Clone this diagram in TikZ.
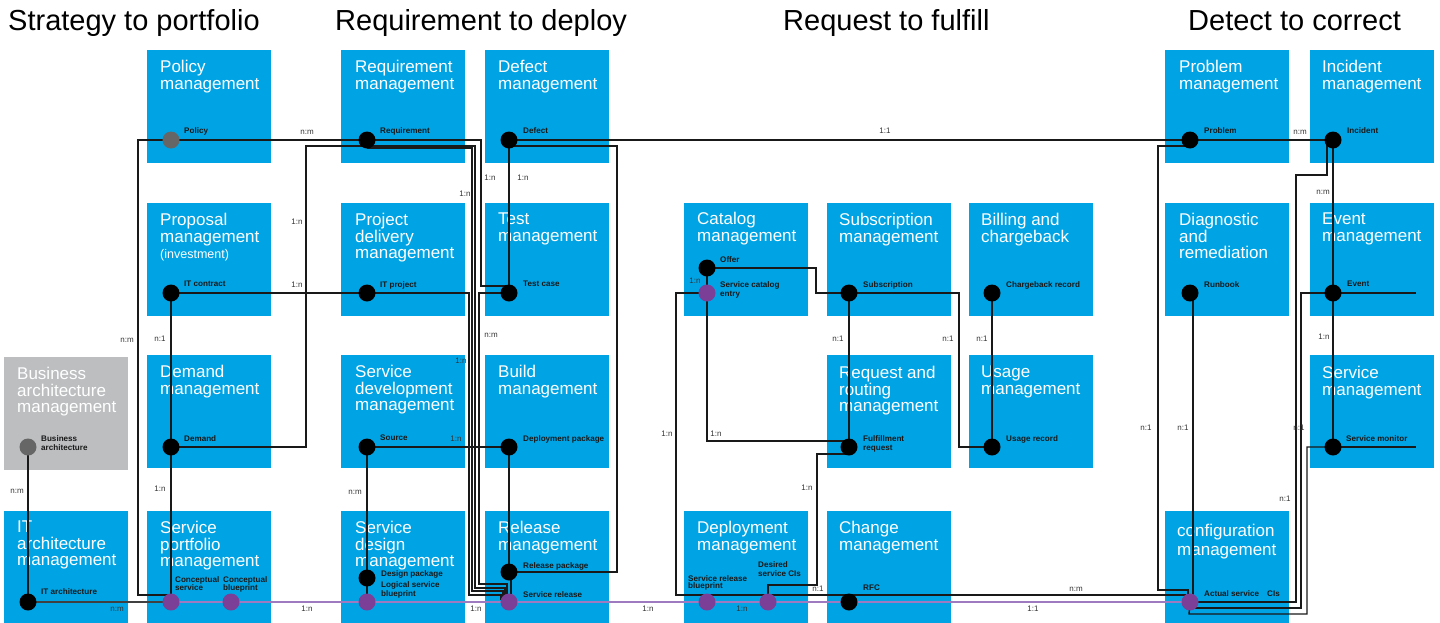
\documentclass[tikz,border=0pt]{standalone}
\usepackage{fontspec}
\setmainfont{Liberation Sans}
\usetikzlibrary{calc}
\definecolor{boxblue}{HTML}{00A4E4}
\definecolor{boxgray}{HTML}{BCBEC0}
\definecolor{dotgray}{HTML}{666666}
\definecolor{dotpurple}{HTML}{7B3F98}
\definecolor{linepurple}{HTML}{9E7BC0}
\pgfdeclarelayer{bg}\pgfdeclarelayer{lines}\pgfsetlayers{bg,lines,main}
\begin{document}
\begin{tikzpicture}[x=1pt,y=-1pt,
  box/.style={anchor=north west, fill=boxblue, minimum width=124pt, minimum height=113pt, inner sep=0pt, draw=none},
  gbox/.style={box, fill=boxgray},
  ttl/.style={anchor=north west, inner sep=0pt, text=white, align=left, font=\fontsize{17}{16.5}\selectfont},
  hdr/.style={anchor=base west, inner sep=0pt, font=\fontsize{29}{30}\selectfont},
  dot/.style={circle, fill=black, minimum size=17pt, inner sep=0pt},
  gdot/.style={dot, fill=dotgray},
  pdot/.style={dot, fill=dotpurple},
  lbl/.style={anchor=north west, inner sep=0pt, align=left, font=\fontsize{8.1}{9}\selectfont\bfseries, text=black!90},
  rat/.style={inner sep=0pt, font=\fontsize{8}{8}\selectfont, text=black!80},
  conn/.style={line width=1.4pt, black!90},
  pconn/.style={line width=2.2pt, linepurple},
]
\useasboundingbox (0,0) rectangle (1440,622);

% headers
\node[hdr] (h1) at (8,30) {Strategy to portfolio};
\node[hdr] (h2) at (335,30) {Requirement to deploy};
\node[hdr] (h3) at (783,30) {Request to fulfill};
\node[hdr] (h4) at (1188,30) {Detect to correct};

\begin{pgfonlayer}{bg}
% boxes
\node[gbox] (bam) at (4,357) {};
\node[box] (itam) at (4,511) {};
\node[box] (pol) at (147,50) {};
\node[box] (prop) at (147,203) {};
\node[box] (dem) at (147,355) {};
\node[box] (spm) at (147,511) {};
\node[box] (req) at (341,50) {};
\node[box] (pdm) at (341,203) {};
\node[box] (sdev) at (341,355) {};
\node[box] (sdes) at (341,511) {};
\node[box] (defm) at (485,50) {};
\node[box] (test) at (485,203) {};
\node[box] (build) at (485,355) {};
\node[box] (rel) at (485,511) {};
\node[box] (cat) at (684,203) {};
\node[box] (depm) at (684,511) {};
\node[box] (subm) at (827,203) {};
\node[box] (rr) at (827,355) {};
\node[box] (chg) at (827,511) {};
\node[box] (bill) at (969,203) {};
\node[box] (usage) at (969,355) {};
\node[box] (prob) at (1165,50) {};
\node[box] (diag) at (1165,203) {};
\node[box] (cfg) at (1165,511) {};
\node[box] (inc) at (1310,50) {};
\node[box] (evt) at (1310,203) {};
\node[box] (smg) at (1310,355) {};
% titles
\node[ttl] (t-bam) at (17,367) {Business\\architecture\\management};
\node[ttl] (t-itam) at (17,521) {IT\\architecture\\management};
\node[ttl] (t-pol) at (160,60) {Policy\\management};
\node[ttl] (t-prop) at (160,213) {Proposal\\management\\{\fontsize{12.5}{16.5}\selectfont (investment)}};
\node[ttl] (t-dem) at (160,365) {Demand\\management};
\node[ttl] (t-spm) at (160,521) {Service\\portfolio\\management};
\node[ttl] (t-req) at (355,60) {Requirement\\management};
\node[ttl] (t-pdm) at (355,213) {Project\\delivery\\management};
\node[ttl] (t-sdev) at (355,365) {Service\\development\\management};
\node[ttl] (t-sdes) at (355,521) {Service\\design\\management};
\node[ttl] (t-def) at (498,60) {Defect\\management};
\node[ttl] (t-test) at (498,213) {Test\\management};
\node[ttl] (t-build) at (498,365) {Build\\management};
\node[ttl] (t-rel) at (498,521) {Release\\management};
\node[ttl] (t-cat) at (697,212) {Catalog\\management};
\node[ttl] (t-dep) at (697,521) {Deployment\\management};
\node[ttl] (t-sub) at (839,213) {Subscription\\management};
\node[ttl] (t-rr) at (839,366) {Request and\\routing\\management};
\node[ttl] (t-chg) at (839,521) {Change\\management};
\node[ttl] (t-bill) at (981,213) {Billing and\\chargeback};
\node[ttl] (t-usage) at (981,366) {Usage\\management};
\node[ttl] (t-prob) at (1179,60) {Problem\\management};
\node[ttl] (t-diag) at (1179,213) {Diagnostic\\and\\remediation};
\node[ttl, font=\fontsize{17}{18.5}\selectfont] (t-cfg) at (1177,524) {configuration\\management};
\node[ttl] (t-inc) at (1322,60) {Incident\\management};
\node[ttl] (t-evt) at (1322,213) {Event\\management};
\node[ttl] (t-smg) at (1322,366) {Service\\management};
\end{pgfonlayer}

% dots
\node[gdot] (d-bus) at (28,447) {};
\node[dot] (d-itarch) at (28,602) {};
\node[gdot] (d-pol) at (171,140) {};
\node[dot] (d-itc) at (171,293) {};
\node[dot] (d-dem) at (171,447) {};
\node[pdot] (d-cserv) at (171,602) {};
\node[pdot] (d-cbp) at (231,602) {};
\node[dot] (d-req) at (367,140) {};
\node[dot] (d-itp) at (367,293) {};
\node[dot] (d-src) at (367,447) {};
\node[dot] (d-dpkg) at (367,578) {};
\node[pdot] (d-lsb) at (367,602) {};
\node[dot] (d-def) at (509,140) {};
\node[dot] (d-tc) at (509,293) {};
\node[dot] (d-dep) at (509,447) {};
\node[dot] (d-relp) at (509,572) {};
\node[pdot] (d-srel) at (509,602) {};
\node[dot] (d-offer) at (707,268) {};
\node[pdot] (d-sce) at (707,293) {};
\node[pdot] (d-srb) at (707,602) {};
\node[pdot] (d-dsci) at (768,602) {};
\node[dot] (d-sub) at (849,293) {};
\node[dot] (d-fr) at (849,447) {};
\node[dot] (d-rfc) at (849,602) {};
\node[dot] (d-cb) at (992,293) {};
\node[dot] (d-ur) at (992,447) {};
\node[dot] (d-prob) at (1190,140) {};
\node[dot] (d-rb) at (1190,293) {};
\node[pdot] (d-as) at (1190,602) {};
\node[dot] (d-inc) at (1333,140) {};
\node[dot] (d-evt) at (1333,293) {};
\node[dot] (d-smon) at (1333,447) {};
\coordinate (evt-end) at (1416,293);
\coordinate (smon-end) at (1416,447);

\begin{pgfonlayer}{lines}
\draw[pconn] (d-cserv.center) -- (d-as.center);
\draw[conn] (d-bus.center) -- (d-itarch.center);
\draw[conn, black!75] (d-itarch.center) -- (d-cserv.center);
\draw[conn] (d-pol.center) -- (d-req.center);
\draw[conn] (d-pol.center) -- (138,140) -- (138,595) -- ($(d-cserv.center)+(0,-7)$);
\draw[conn] (d-itc.center) -- (d-itp.center);
\draw[conn] (d-itc.center) -- (d-dem.center);
\draw[conn] (d-dem.center) -- (d-cserv.center);
\draw[conn] (d-dem.center) -- (306,447) -- (306,146) -- ($(d-req.center)+(0,6)$);
\draw[conn] ($(d-req.center)+(0,6)$) -- (475,146) -- (475,588) -- (505,588) -- ($(d-srel.center)+(-4,-4)$);
\draw[conn] ($(d-req.center)+(0,8)$) -- (472,148) -- (472,591) -- (503,591) -- ($(d-srel.center)+(-6,-3)$);
\draw[conn] (d-req.center) -- (481,140) -- (481,286) -- ($(d-tc.center)+(0,-7)$);
\draw[conn] (d-def.center) -- (d-tc.center);
\draw[conn] ($(d-def.center)+(0,6)$) -- (617,146) -- (617,572) -- (d-relp.center);
\draw[conn] (d-def.center) -- (d-prob.center);
\draw[conn] (d-itp.center) -- (469,293) -- (469,595) -- (501,595) -- ($(d-srel.center)+(-8,-2)$);
\draw[conn] (d-tc.center) -- (479,293) -- (479,584) -- (507,584) -- ($(d-srel.center)+(-2,-4)$);
\draw[conn] (d-src.center) -- (d-dep.center);
\draw[conn] (d-src.center) -- (d-dpkg.center);
\draw[conn] (d-dpkg.center) -- (d-lsb.center);
\draw[conn] (d-dep.center) -- (d-relp.center);
\draw[conn] ($(d-relp.center)+(2,0)$) -- ($(d-srel.center)+(2,0)$);
\draw[conn] (d-offer.center) -- (d-sce.center);
\draw[conn] (d-offer.center) -- (816,268) -- (816,293) -- (d-sub.center);
\draw[conn] (d-sub.center) -- (959,293) -- (959,447) -- (d-ur.center);
\draw[conn] (d-sub.center) -- (d-fr.center);
\draw[conn] (d-cb.center) -- (d-ur.center);
\draw[conn] (d-sce.center) -- (707,441) -- ($(d-fr.center)+(0,-6)$);
\draw[conn] (d-sce.center) -- (676,293) -- (676,595) -- ($(d-rfc.center)+(0,-7)$);
\draw[conn] ($(d-rfc.center)+(0,-7)$) -- ($(d-as.center)+(-4,-7)$);
\draw[conn] ($(d-fr.center)+(0,7)$) -- (817,454) -- (817,585) -- (768,585) -- (d-dsci.center);
\draw[conn] ($(d-prob.center)+(0,6)$) -- (1158,146) -- (1158,590) -- (1188,590) -- ($(d-as.center)+(-2,-4)$);
\draw[conn] (d-prob.center) -- (d-inc.center);
\draw[conn] ($(d-rb.center)+(3,0)$) -- ($(d-as.center)+(3,0)$);
\draw[conn] (d-inc.center) -- (d-evt.center);
\draw[conn] (d-evt.center) -- (d-smon.center);
\draw[conn] ($(d-inc.center)+(-6,0)$) -- (1327,175) -- (1296,175) -- (1296,602) -- (d-as.center);
\draw[conn] (d-evt.center) -- (1301,293) -- (1301,608) -- (1195,608) -- ($(d-as.center)+(5,2)$);
\draw[conn] (d-smon.center) -- (1307,447) -- (1307,614) -- (1189,614) -- (d-as.center);
\draw[conn] (d-evt.center) -- (evt-end);
\draw[conn] (d-smon.center) -- (smon-end);
\end{pgfonlayer}

% dot labels
\node[lbl] (l-bus) at (41,435) {Business\\architecture};
\node[lbl] (l-itarch) at (41,588) {IT architecture};
\node[lbl] (l-pol) at (184,127) {Policy};
\node[lbl] (l-itc) at (184,281) {IT contract};
\node[lbl] (l-dem) at (184,435) {Demand};
\node[lbl, font=\fontsize{8.1}{8.4}\selectfont\bfseries] (l-cserv) at (175,576) {Conceptual\\service};
\node[lbl, font=\fontsize{8.1}{8.4}\selectfont\bfseries] (l-cbp) at (223,576) {Conceptual\\blueprint};
\node[lbl] (l-req) at (380,127) {Requirement};
\node[lbl] (l-itp) at (380,281) {IT project};
\node[lbl] (l-src) at (380,435) {Source};
\node[lbl] (l-dpkg) at (381,570) {Design package};
\node[lbl, font=\fontsize{8.1}{9.8}\selectfont\bfseries] (l-lsb) at (381,581) {Logical service\\blueprint};
\node[lbl] (l-def) at (523,127) {Defect};
\node[lbl] (l-tc) at (523,281) {Test case};
\node[lbl] (l-dep) at (523,435) {Deployment package};
\node[lbl] (l-relp) at (523,562) {Release package};
\node[lbl] (l-srel) at (523,591) {Service release};
\node[lbl] (l-offer) at (720,256) {Offer};
\node[lbl, font=\fontsize{8.1}{9.8}\selectfont\bfseries] (l-sce) at (720,281) {Service catalog\\entry};
\node[lbl, font=\fontsize{8.1}{7.6}\selectfont\bfseries] (l-srb) at (688,575) {Service release\\blueprint};
\node[lbl] (l-dsci) at (758,561) {Desired\\service CIs};
\node[lbl] (l-sub) at (863,281) {Subscription};
\node[lbl] (l-fr) at (863,435) {Fulfillment\\request};
\node[lbl] (l-rfc) at (863,585) {RFC};
\node[lbl] (l-cb) at (1006,281) {Chargeback record};
\node[lbl] (l-ur) at (1006,435) {Usage record};
\node[lbl] (l-prob) at (1204,127) {Problem};
\node[lbl] (l-rb) at (1204,281) {Runbook};
\node[lbl] (l-as) at (1204,590) {Actual service\quad CIs};
\node[lbl] (l-inc) at (1347,127) {Incident};
\node[lbl] (l-evt) at (1347,281) {Event};
\node[lbl] (l-smon) at (1346,435) {Service monitor};

% ratio labels
\node[rat] (r1) at (17,491) {n:m};
\node[rat] (r2) at (117,609) {n:m};
\node[rat] (r3) at (127,340) {n:m};
\node[rat] (r4) at (160,339) {n:1};
\node[rat] (r5) at (160,489) {1:n};
\node[rat] (r6) at (297,222) {1:n};
\node[rat] (r7) at (297,285) {1:n};
\node[rat] (r8) at (307,132) {n:m};
\node[rat] (r9) at (307,609) {1:n};
\node[rat] (r10) at (355,492) {n:m};
\node[rat] (r11) at (456,439) {1:n};
\node[rat] (r12) at (461,361) {1:n};
\node[rat] (r13) at (465,194) {1:n};
\node[rat] (r14) at (490,178) {1:n};
\node[rat] (r15) at (523,178) {1:n};
\node[rat] (r16) at (491,335) {n:m};
\node[rat] (r17) at (476,609) {1:n};
\node[rat] (r18) at (648,609) {1:n};
\node[rat] (r19) at (667,434) {1:n};
\node[rat] (r20) at (695,281) {1:n};
\node[rat] (r21) at (716,434) {1:n};
\node[rat] (r22) at (742,609) {1:n};
\node[rat] (r23) at (807,488) {1:n};
\node[rat] (r24) at (818,589) {n:1};
\node[rat] (r25) at (838,339) {n:1};
\node[rat] (r26) at (885,131) {1:1};
\node[rat] (r27) at (948,339) {n:1};
\node[rat] (r28) at (982,339) {n:1};
\node[rat] (r29) at (1033,609) {1:1};
\node[rat] (r30) at (1076,589) {n:m};
\node[rat] (r31) at (1146,428) {n:1};
\node[rat] (r32) at (1183,428) {n:1};
\node[rat] (r33) at (1299,428) {n:1};
\node[rat] (r34) at (1285,499) {n:1};
\node[rat] (r35) at (1300,132) {n:m};
\node[rat] (r36) at (1323,192) {n:m};
\node[rat] (r37) at (1324,337) {1:n};
\end{tikzpicture}
\end{document}
